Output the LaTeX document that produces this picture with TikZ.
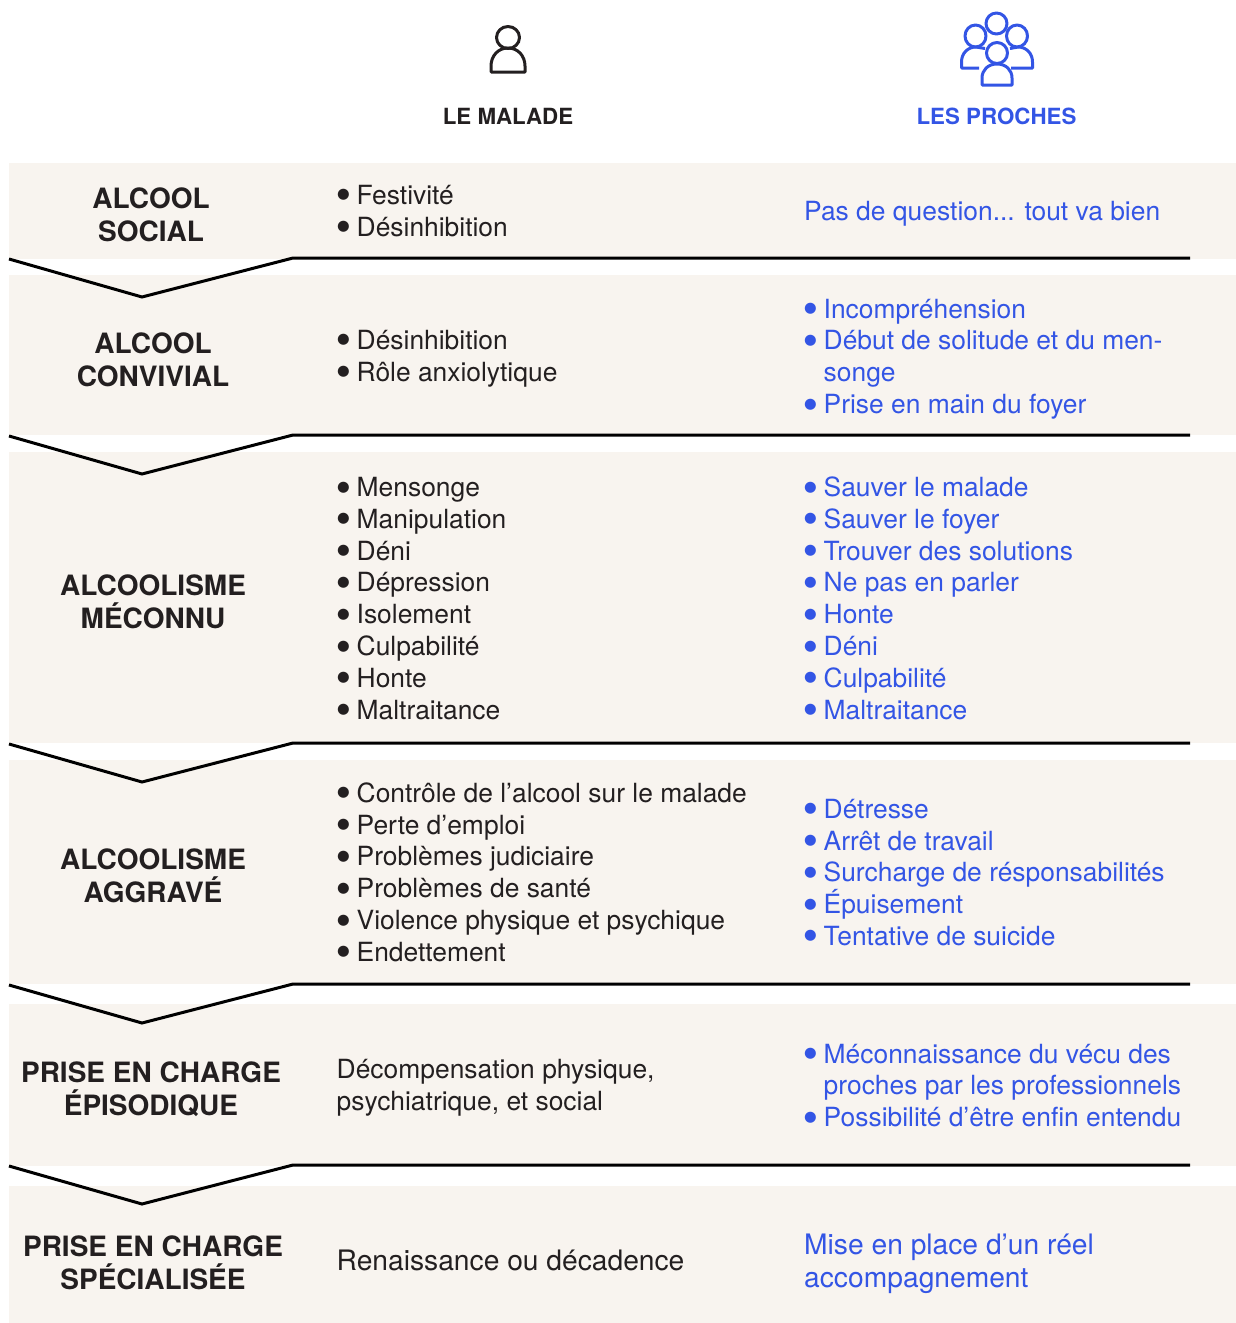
\documentclass[tikz,border=0pt]{standalone}
\usepackage{fontspec}
\setmainfont{TeX Gyre Heros}
\newfontfamily\symfont{DejaVu Sans}
\definecolor{band}{HTML}{F8F4EF}
\definecolor{ink}{HTML}{231F20}
\definecolor{blu}{HTML}{3355E5}
\newcommand{\bigbul}{\smash{\raisebox{5.5pt}{\fontsize{14.5}{14.5}\symfont ●}}}
\newcommand{\bu}[1]{\makebox[19.5pt][l]{\bigbul}#1\strut}
\newcommand{\nb}[1]{\makebox[19.5pt][l]{}#1\strut}
\tikzset{
  x=1pt,y=-1pt,
  bandbox/.style={fill=band,draw=none},
  chevron/.style={draw=black,line width=3pt,line join=miter},
  stage/.style={font=\fontsize{28}{33.4}\selectfont\bfseries,text=ink,align=center,inner sep=0pt},
  head/.style={font=\fontsize{22.3}{26}\selectfont\bfseries,inner sep=0pt},
  malade/.style={font=\fontsize{26.4}{31.8}\selectfont,text=ink,align=left,anchor=west,inner sep=0pt},
  proches/.style={font=\fontsize{26.4}{31.8}\selectfont,text=blu,align=left,anchor=west,inner sep=0pt},
  large/.style={font=\fontsize{28.2}{33}\selectfont},
  icon/.style={line width=3pt,line cap=butt,line join=round},
}
\begin{document}
\begin{tikzpicture}
\useasboundingbox (0,0) rectangle (1236,1323);
% bands
\fill[bandbox] (9,163) rectangle (1236,259);
\fill[bandbox] (9,275) rectangle (1236,435);
\fill[bandbox] (9,452) rectangle (1236,743);
\fill[bandbox] (9,760) rectangle (1236,984);
\fill[bandbox] (9,1004) rectangle (1236,1166);
\fill[bandbox] (9,1186) rectangle (1236,1323);
% chevrons
\foreach \y in {259,436,744,985,1166}{
  \draw[chevron] (9,\y) -- (142,\y+38) -- (293,\y-1) -- (1190,\y-1);
}
% icon: person
\begin{scope}[icon,draw=ink]
  \draw (508,37.5) ellipse [x radius=11.5,y radius=11];
  \draw (491,72) -- (525,72) -- (525,66) .. controls (525,56) and (518,48) .. (508,48) .. controls (498,48) and (491,56) .. (491,66) -- cycle;
\end{scope}
% icon: group
\begin{scope}[icon,draw=blu]
  \draw (996.5,23.5) ellipse [x radius=10.5,y radius=10.5];
  \draw (975.5,36) ellipse [x radius=10.5,y radius=11];
  \draw (1017,36) ellipse [x radius=10.5,y radius=11];
  \draw (997,53) ellipse [x radius=10.5,y radius=10.5];
  \draw (979,68) -- (961.5,68) -- (961.5,62) .. controls (961.5,53) and (968,47) .. (976,47) -- (985,48.5);
  \draw (1011,68) -- (1032.5,68) -- (1032.5,62) .. controls (1032.5,53) and (1026,47) .. (1018,47) -- (1010,48.5);
  \draw (982,85) -- (1012,85) -- (1012,78) .. controls (1012,70) and (1006,64) .. (997,64) .. controls (988,64) and (982,70) .. (982,78) -- cycle;
\end{scope}
% headers
\node[head,text=ink] (hm) at (508,116) {LE MALADE};
\node[head,text=blu] (hp) at (996.5,116) {LES PROCHES};
% stages
\node[stage] (s1) at (151,215) {ALCOOL\\SOCIAL};
\node[stage] (s2) at (153,360) {ALCOOL\\CONVIVIAL};
\node[stage] (s3) at (153,602) {ALCOOLISME\\MÉCONNU};
\node[stage] (s4) at (153,876) {ALCOOLISME\\AGGRAVÉ};
\node[stage] (s5) at (151,1089) {PRISE EN CHARGE\\ÉPISODIQUE};
\node[stage] (s6) at (153,1263) {PRISE EN CHARGE\\SPÉCIALISÉE};
% malade
\node[malade] (m1) at (337,214) {\bu{Festivité}\\\bu{Désinhibition}};
\node[malade] (m2) at (337,359) {\bu{Désinhibition}\\\bu{Rôle anxiolytique}};
\node[malade] (m3) at (337,601.5) {\bu{Mensonge}\\\bu{Manipulation}\\\bu{Déni}\\\bu{Dépression}\\\bu{Isolement}\\\bu{Culpabilité}\\\bu{Honte}\\\bu{Maltraitance}};
\node[malade] (m4) at (337,875.5) {\bu{Contrôle de l’alcool sur le malade}\\\bu{Perte d’emploi}\\\bu{Problèmes judiciaire}\\\bu{Problèmes de santé}\\\bu{Violence physique et psychique}\\\bu{Endettement}};
\node[malade] (m5) at (336.5,1088) {\strut Décompensation physique,\\\strut psychiatrique, et social};
\node[malade,large] (m6) at (336.5,1263.5) {\strut Renaissance ou décadence};
% proches
\node[proches] (p1) at (804,214) {\strut Pas de question... tout va bien};
\node[proches] (p2) at (804,359.5) {\bu{Incompréhension}\\\bu{Début de solitude et du men-}\\\nb{songe}\\\bu{Prise en main du foyer}};
\node[proches] (p3) at (804,601.5) {\bu{Sauver le malade}\\\bu{Sauver le foyer}\\\bu{Trouver des solutions}\\\bu{Ne pas en parler}\\\bu{Honte}\\\bu{Déni}\\\bu{Culpabilité}\\\bu{Maltraitance}};
\node[proches] (p4) at (804,875.5) {\bu{Détresse}\\\bu{Arrêt de travail}\\\bu{Surcharge de résponsabilités}\\\bu{\smash{É}puisement}\\\bu{Tentative de suicide}};
\node[proches] (p5) at (804,1088.5) {\bu{Méconnaissance du vécu des}\\\nb{proches par les professionnels}\\\bu{Possibilité d’être enfin entendu}};
\node[proches,large] (p6) at (804,1264) {\strut Mise en place d’un réel\\\strut accompagnement};
\end{tikzpicture}
\end{document}
